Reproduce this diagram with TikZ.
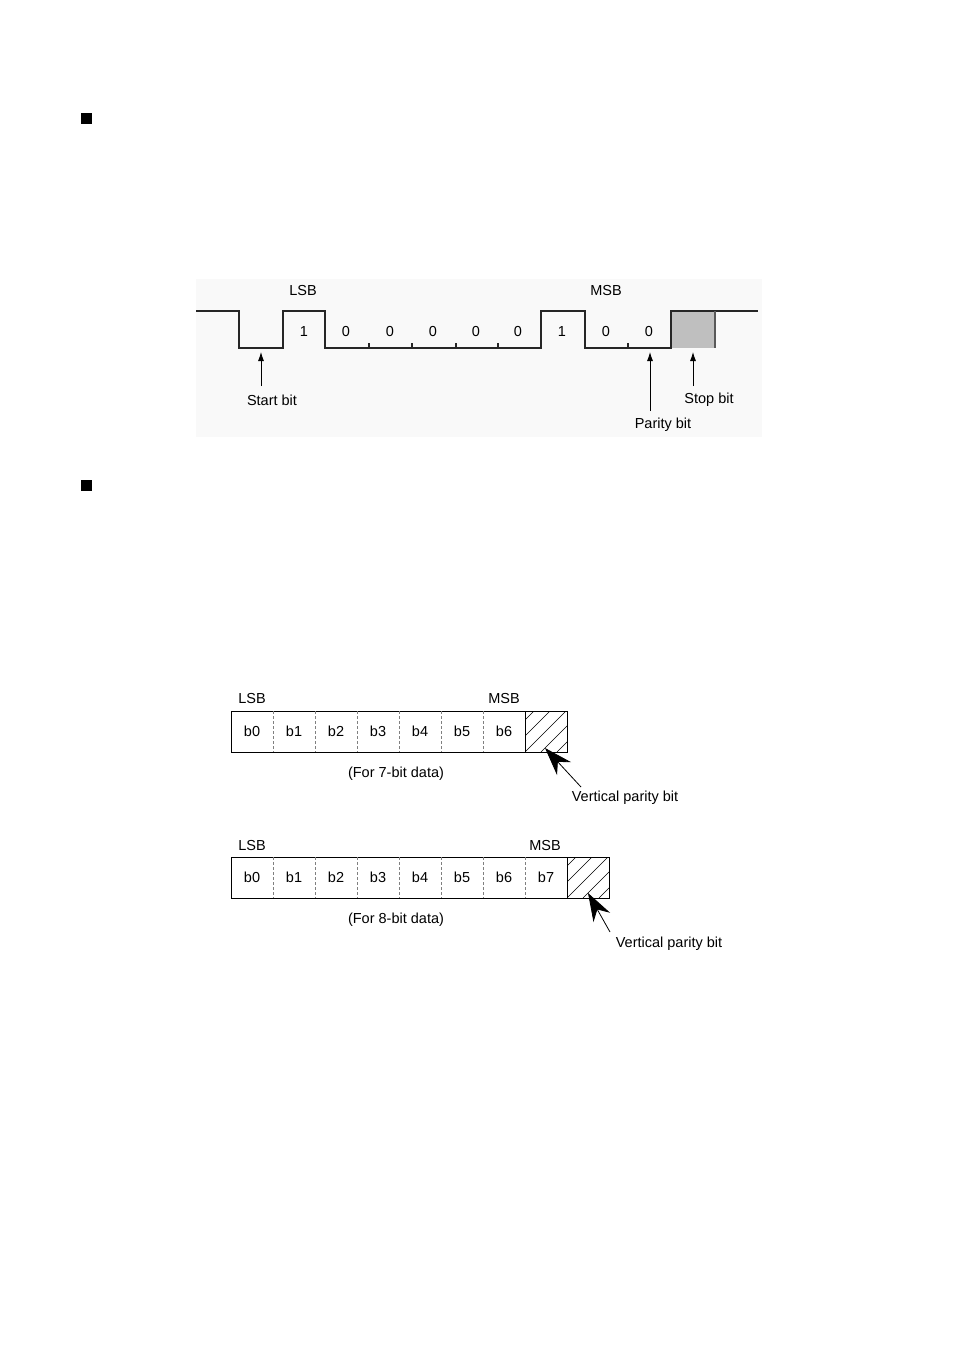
\documentclass[tikz,border=0pt]{standalone}
\usepackage{fontspec}
\setmainfont{Liberation Sans}
\usetikzlibrary{arrows.meta,positioning}
\definecolor{panel}{gray}{0.975}
\definecolor{stopfill}{gray}{0.75}

\begin{document}
\begin{tikzpicture}[x=1pt,y=-1pt,
    lbl/.style={font=\fontsize{14.5}{17}\selectfont, inner sep=0pt},
    wave/.style={line width=1.1pt, black!85},
    thinarrow/.style={-{Latex[length=9pt,width=6pt]}, line width=0.8pt},
    bigarrow/.style={-{Stealth[length=28pt,width=19pt]}, line width=0.8pt},
    cell/.style={lbl, minimum width=42pt, minimum height=41pt, outer sep=0pt},
    sep/.style={dashed, gray, line width=0.8pt, dash pattern=on 3pt off 2pt},
    hatch/.style={line width=0.5pt}]
    \useasboundingbox (0,0) rectangle (954,1348);
    % section marks
    \fill (80.5,113.5) rectangle +(11,11);
    \fill (80.5,479.5) rectangle +(11,11);
    % waveform panel
    \fill[panel] (196,279) rectangle (762,437);
    \fill[stopfill] (671,311) rectangle (715,348);
    \draw[wave] (196,311) -- (239,311) -- (239,348) -- (283,348) -- (283,311) -- (325,311) -- (325,348)
        -- (541,348) -- (541,311) -- (585,311) -- (585,348) -- (671,348) -- (671,311) -- (758,311);
    \draw[wave, black!65] (715,311) -- (715,348);
    \draw[wave] (369,348) --++ (0,-5) (412,348) --++ (0,-5) (456,348) --++ (0,-5) (498,348) --++ (0,-5) (628,348) --++ (0,-5);
    \node[lbl] (lsb) at (303,291) {LSB};
    \node[lbl] (msb) at (606,291) {MSB};
    \node[lbl] (d1) at (304,332) {1};
    \node[lbl] (d2) at (346,332) {0};
    \node[lbl] (d3) at (390,332) {0};
    \node[lbl] (d4) at (433,332) {0};
    \node[lbl] (d5) at (476,332) {0};
    \node[lbl] (d6) at (518,332) {0};
    \node[lbl] (d7) at (562,332) {1};
    \node[lbl] (d8) at (606,332) {0};
    \node[lbl] (par) at (649,332) {0};
    \node[lbl] (startbit) at (272,400) {Start bit};
    \node[lbl] (stopbit) at (709,400) {Stop bit};
    \node[lbl] (paritybit) at (663,425) {Parity bit};
    \coordinate (starttail) at (261,386);
    \coordinate (starttip) at (261,352);
    \coordinate (paritytail) at (650,411);
    \coordinate (paritytip) at (650,352);
    \coordinate (stoptail) at (693,386);
    \coordinate (stoptip) at (693,352);
    \draw[thinarrow] (starttail) -- (starttip);
    \draw[thinarrow] (paritytail) -- (paritytip);
    \draw[thinarrow] (stoptail) -- (stoptip);
    % 7-bit frame
    \node[cell] (sa0) at (252,731.5) {b0};
    \node[cell, right=0pt of sa0] (sa1) {b1};
    \node[cell, right=0pt of sa1] (sa2) {b2};
    \node[cell, right=0pt of sa2] (sa3) {b3};
    \node[cell, right=0pt of sa3] (sa4) {b4};
    \node[cell, right=0pt of sa4] (sa5) {b5};
    \node[cell, right=0pt of sa5] (sa6) {b6};
    \node[cell, right=0pt of sa6] (sap) {};
    \begin{scope}
        \clip (sap.north west) rectangle (sap.south east);
        \foreach \k in {-32,-16,...,48}
            \draw[hatch] ([xshift=\k pt]sap.south west) --++ (45,-45);
    \end{scope}
    \draw[line width=0.8pt] (sa0.north west) rectangle (sap.south east);
    \draw[line width=0.8pt] (sa6.north east) -- (sa6.south east);
    \foreach \c in {sa0,sa1,sa2,sa3,sa4,sa5}
        \draw[sep] (\c.north east) -- (\c.south east);
    \node[lbl] (lsb7) at (252,699) {LSB};
    \node[lbl] (msb7) at (504,699) {MSB};
    \node[lbl] (note7) at (396,774) {(For 7-bit data)};
    \node[lbl] (vpb7) at (625,798) {Vertical parity bit};
    \coordinate (vpb7tail) at (581,787);
    \coordinate (vpb7tip) at (545,748);
    \draw[bigarrow] (vpb7tail) -- (vpb7tip);
    % 8-bit frame
    \node[cell] (sb0) at (252,877.5) {b0};
    \node[cell, right=0pt of sb0] (sb1) {b1};
    \node[cell, right=0pt of sb1] (sb2) {b2};
    \node[cell, right=0pt of sb2] (sb3) {b3};
    \node[cell, right=0pt of sb3] (sb4) {b4};
    \node[cell, right=0pt of sb4] (sb5) {b5};
    \node[cell, right=0pt of sb5] (sb6) {b6};
    \node[cell, right=0pt of sb6] (sb7) {b7};
    \node[cell, right=0pt of sb7] (sbp) {};
    \begin{scope}
        \clip (sbp.north west) rectangle (sbp.south east);
        \foreach \k in {-32,-16,...,48}
            \draw[hatch] ([xshift=\k pt]sbp.south west) --++ (45,-45);
    \end{scope}
    \draw[line width=0.8pt] (sb0.north west) rectangle (sbp.south east);
    \draw[line width=0.8pt] (sb7.north east) -- (sb7.south east);
    \foreach \c in {sb0,sb1,sb2,sb3,sb4,sb5,sb6}
        \draw[sep] (\c.north east) -- (\c.south east);
    \node[lbl] (lsb8) at (252,845) {LSB};
    \node[lbl] (msb8) at (545,845) {MSB};
    \node[lbl] (note8) at (396,920) {(For 8-bit data)};
    \node[lbl] (vpb8) at (669,944) {Vertical parity bit};
    \coordinate (vpb8tail) at (610,932);
    \coordinate (vpb8tip) at (588,893);
    \draw[bigarrow] (vpb8tail) -- (vpb8tip);
\end{tikzpicture}
\end{document}
